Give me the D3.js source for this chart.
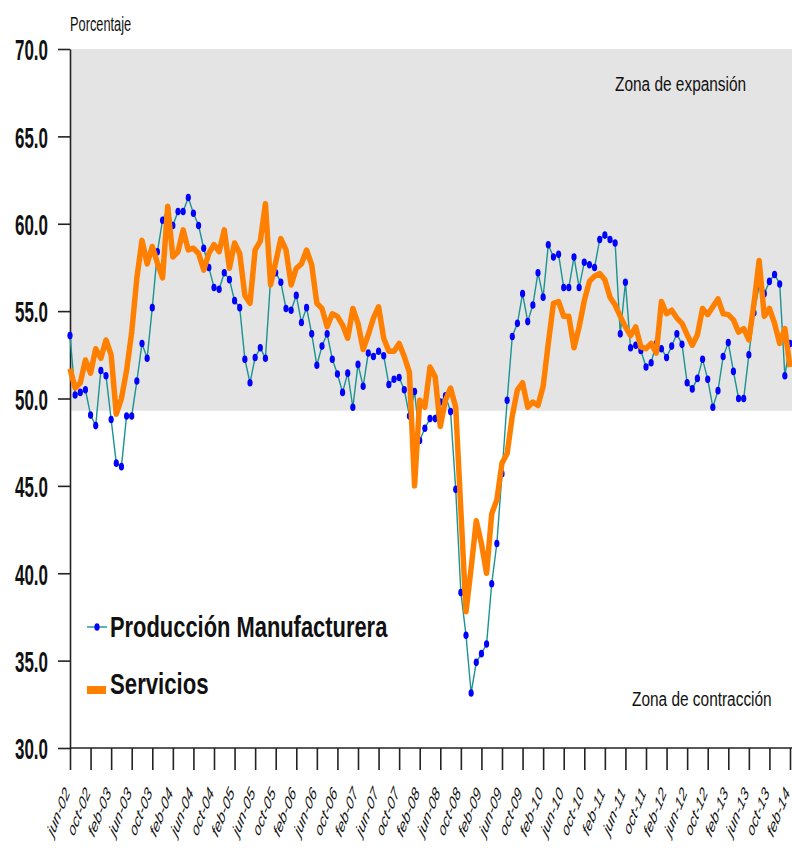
<!DOCTYPE html>
<html>
<head>
<meta charset="utf-8">
<script src="https://cdn.jsdelivr.net/npm/d3@7"></script>
<style>
  body { margin: 0; background: #fff; }
  text { font-family: Arial, "Liberation Sans", sans-serif; }
</style>
</head>
<body>
<script>
// Indicadores de pedidos: manufactura vs servicios, jun-02 a feb-14
const monthNames = ["ene","feb","mar","abr","may","jun","jul","ago","sep","oct","nov","dic"];

const tickLabels = ["jun-02","oct-02","feb-03","jun-03","oct-03","feb-04","jun-04","oct-04","feb-05",
  "jun-05","oct-05","feb-06","jun-06","oct-06","feb-07","jun-07","oct-07","feb-08","jun-08","oct-08",
  "feb-09","jun-09","oct-09","feb-10","jun-10","oct-10","feb-11","jun-11","oct-11","feb-12","jun-12",
  "oct-12","feb-13","jun-13","oct-13","feb-14"];

const manufactura = [
  53.6, 50.2, 50.35, 50.5, 49.05, 48.45, 51.6, 51.3, 48.8, 46.3,
  46.1, 49.0, 49.0, 51.0, 53.15, 52.3, 55.2, 58.4, 60.2, 60.85,
  59.9, 60.7, 60.7, 61.5, 60.6, 59.9, 58.6, 57.5, 56.35, 56.25,
  57.2, 56.8, 55.6, 55.2, 52.25, 50.9, 52.35, 52.9, 52.3, 56.8,
  57.2, 56.65, 55.15, 55.05, 55.9, 54.35, 55.2, 53.7, 51.9, 53.0,
  53.7, 52.25, 51.4, 50.35, 51.45, 49.5, 51.95, 50.7, 52.6, 52.4,
  52.7, 52.45, 50.8, 51.1, 51.2, 50.5, 49.0, 50.4, 47.6, 48.3,
  48.85, 48.85, 49.8, 50.15, 49.25, 44.8, 38.9, 36.45, 33.15, 34.9,
  35.4, 35.95, 39.4, 41.7, 45.7, 49.9, 53.55, 54.3, 56.0, 54.4,
  55.35, 57.2, 55.8, 58.8, 58.1, 58.25, 56.35, 56.35, 58.1, 56.35,
  57.8, 57.65, 57.5, 59.1, 59.35, 59.1, 58.9, 53.7, 56.65, 52.9,
  53.05, 52.75, 51.8, 52.05, 53.15, 52.85, 52.35, 53.0, 53.7, 53.1,
  50.9, 50.55, 51.15, 52.25, 51.1, 49.5, 50.45, 52.4, 53.2, 51.55,
  50.0, 50.0, 52.5, 54.9, 56.45, 56.0, 56.7, 57.1, 56.55, 51.3,
  53.15
];

const servicios = [
  51.7, 50.6, 50.9, 52.2, 51.45, 52.85, 52.3, 53.35, 52.5, 49.1,
  50.0, 51.6, 53.8, 56.9, 59.05, 57.7, 58.7, 57.75, 56.9, 61.0,
  58.1, 58.4, 59.65, 58.5, 58.6, 58.3, 57.35, 58.3, 58.8, 58.4,
  59.65, 57.45, 58.9, 58.3, 55.9, 55.45, 58.5, 59.0, 61.15, 56.5,
  57.8, 59.15, 58.5, 56.5, 57.45, 57.7, 58.5, 57.65, 55.45, 55.15,
  54.1, 54.85, 54.7, 54.2, 53.45, 55.15, 54.3, 52.8, 53.65, 54.6,
  55.25, 53.45, 52.7, 52.7, 53.15, 52.4, 51.5, 45.0, 49.9, 49.5,
  51.8, 51.25, 48.4, 49.9, 50.6, 49.5, 43.6, 37.8, 40.3, 43.0,
  41.7, 40.0, 43.4, 44.2, 46.3, 46.85, 49.0, 50.5, 50.9, 49.5,
  49.8, 49.6, 50.7, 53.15, 55.45, 55.55, 54.7, 54.7, 52.9, 54.1,
  55.6, 56.7, 57.0, 57.15, 56.8, 55.8, 55.35, 54.7, 54.1, 53.6,
  54.1, 52.95, 52.85, 53.15, 52.6, 55.55, 54.85, 55.05, 54.6, 54.3,
  53.65, 53.05, 53.65, 55.15, 54.8, 55.25, 55.7, 54.85, 54.8, 54.5,
  53.8, 54.0, 53.35, 55.45, 57.9, 54.7, 55.15, 54.3, 53.15, 54.0,
  51.8
];

const yTicks = [30, 35, 40, 45, 50, 55, 60, 65, 70];
const zoneFloor = 49.3;   // gray band bottom, as drawn in the original

// month categories jun-02 .. feb-14
let categories = [];
for (let i = 0; i < manufactura.length; i++) {
    let m = (5 + i) % 12;
    let yr = 2 + Math.floor((5 + i) / 12);
    categories.push(monthNames[m] + "-" + String(yr).padStart(2, "0"));
}

const width = 792, height = 848;
const plotLeft = 70, plotRight = 790, plotTop = 49, plotBottom = 748;

let svg = d3.select("body").append("svg")
    .attr("width", width)
    .attr("height", height);

let x = d3.scalePoint()
    .domain(categories)
    .range([plotLeft, plotRight]);

let y = d3.scaleLinear()
    .domain([30, 70])
    .range([plotBottom, plotTop]);

// expansion zone background
svg.append("rect")
    .attr("x", plotLeft)
    .attr("y", y(70))
    .attr("width", width - plotLeft)
    .attr("height", y(zoneFloor) - y(70))
    .attr("fill", "#e4e4e4");

// y axis
let yAxis = svg.append("g")
    .attr("transform", `translate(${plotLeft},0)`)
    .call(d3.axisLeft(y).tickValues(yTicks).tickSize(12).tickSizeOuter(0).tickFormat(d3.format(".1f")));

yAxis.selectAll("path, line").attr("stroke", "#222").attr("stroke-width", 1.6);
yAxis.selectAll("text")
    .attr("x", -22)
    .attr("dy", "0.36em")
    .attr("font-size", 30)
    .attr("font-weight", "bold")
    .attr("fill", "#111")
    .attr("textLength", 33)
    .attr("lengthAdjust", "spacingAndGlyphs");

// x axis
let xAxis = svg.append("g")
    .attr("transform", `translate(0,${plotBottom})`)
    .call(d3.axisBottom(x).tickValues(tickLabels).tickSize(22).tickSizeOuter(0));

xAxis.select(".domain").remove();
xAxis.append("line")
    .attr("x1", plotLeft).attr("x2", width)
    .attr("y1", 0).attr("y2", 0);
xAxis.selectAll("line").attr("stroke", "#222").attr("stroke-width", 1.6);

xAxis.selectAll(".tick text")
    .attr("y", 0)
    .attr("dy", 0)
    .attr("text-anchor", "end")
    .attr("font-size", 19)
    .attr("font-style", "italic")
    .attr("fill", "#111")
    .attr("transform", "translate(0,45) scale(0.6,1) rotate(-57)");

// series
let lineM = d3.line()
    .x((d, i) => x(categories[i]))
    .y(d => y(d));

svg.append("path")
    .datum(manufactura)
    .attr("d", lineM)
    .attr("fill", "none")
    .attr("stroke", "#1a9392")
    .attr("stroke-width", 1.4);

svg.append("g").selectAll("ellipse")
    .data(manufactura)
    .enter()
    .append("ellipse")
    .attr("cx", (d, i) => x(categories[i]))
    .attr("cy", d => y(d))
    .attr("rx", 2.6)
    .attr("ry", 3.8)
    .attr("fill", "#0000ff");

svg.append("path")
    .datum(servicios)
    .attr("d", lineM)
    .attr("fill", "none")
    .attr("stroke", "#ff8000")
    .attr("stroke-width", 5.5)
    .attr("stroke-linejoin", "round");

// labels (horizontally condensed like the original)
function condensed(txt, px, py, size, sx, weight) {
    svg.append("text")
        .attr("transform", `translate(${px},${py}) scale(${sx},1)`)
        .attr("font-size", size)
        .attr("font-weight", weight)
        .attr("fill", "#111")
        .text(txt);
}

condensed("Porcentaje", 70, 31, 21, 0.61, "normal");
condensed("Zona de expansión", 615, 91, 21, 0.735, "normal");
condensed("Zona de contracción", 632, 706, 21, 0.735, "normal");

// legend
let legend = svg.append("g");

legend.append("line")
    .attr("x1", 87).attr("x2", 107)
    .attr("y1", 627).attr("y2", 627)
    .attr("stroke", "#1a9392").attr("stroke-width", 1.4);
legend.append("ellipse")
    .attr("cx", 97).attr("cy", 627)
    .attr("rx", 2.6).attr("ry", 3.8)
    .attr("fill", "#0000ff");
legend.append("line")
    .attr("x1", 87).attr("x2", 106)
    .attr("y1", 690).attr("y2", 690)
    .attr("stroke", "#ff8000").attr("stroke-width", 8);

condensed("Producción Manufacturera", 110, 637, 30, 0.73, "bold");
condensed("Servicios", 110, 694, 30, 0.74, "bold");
</script>
</body>
</html>
